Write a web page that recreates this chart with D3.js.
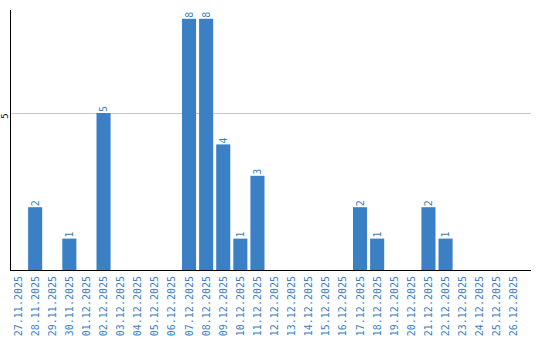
<!DOCTYPE html>
<html>
<head>
<meta charset="utf-8">
<script src="https://cdn.jsdelivr.net/npm/d3@7"></script>
<style>
  body { margin: 0; background: #fff; }
  svg { display: block; }
</style>
</head>
<body>
<svg id="chart"></svg>
<script>
const dates = ["27.11.2025", "28.11.2025", "29.11.2025", "30.11.2025", "01.12.2025",
    "02.12.2025", "03.12.2025", "04.12.2025", "05.12.2025", "06.12.2025",
    "07.12.2025", "08.12.2025", "09.12.2025", "10.12.2025", "11.12.2025",
    "12.12.2025", "13.12.2025", "14.12.2025", "15.12.2025", "16.12.2025",
    "17.12.2025", "18.12.2025", "19.12.2025", "20.12.2025", "21.12.2025",
    "22.12.2025", "23.12.2025", "24.12.2025", "25.12.2025", "26.12.2025"];
const counts = [0, 2, 0, 1, 0, 5, 0, 0, 0, 0, 8, 8, 4, 1, 3, 0, 0, 0, 0, 0,
    2, 1, 0, 0, 2, 1, 0, 0, 0, 0];
const yTicks = [5];

const data = dates.map((d, i) => ({date: d, count: counts[i]}));

const width = 540, height = 340;
const plotLeft = 10.5, plotRight = 531, plotTop = 10, plotBottom = 270;
const blue = "#3b7fc4";
const font = "'DejaVu Sans Mono', monospace";

const svg = d3.select("#chart")
    .attr("width", width)
    .attr("height", height);

const x = d3.scaleBand()
    .domain(dates)
    .range([11, 11 + 17 * dates.length])
    .paddingInner(3 / 17)
    .paddingOuter(0)
    .align(0);

const y = d3.scaleLinear()
    .domain([0, 8.28])
    .range([plotBottom, plotTop]);

// grid
svg.append("g")
    .selectAll("line")
    .data(yTicks)
    .enter().append("line")
    .attr("x1", plotLeft)
    .attr("x2", plotRight)
    .attr("y1", d => Math.round(y(d)) + 0.5)
    .attr("y2", d => Math.round(y(d)) + 0.5)
    .attr("stroke", "#c8c8c8")
    .attr("stroke-width", 1);

// y tick labels
svg.append("g")
    .selectAll("text")
    .data(yTicks)
    .enter().append("text")
    .attr("transform", d => `translate(4.5,${y(d) + 3}) rotate(-90)`)
    .attr("text-anchor", "middle")
    .attr("dominant-baseline", "central")
    .style("font-family", font)
    .style("font-size", "9px")
    .attr("fill", "#000")
    .text(d => d);

// bars
svg.append("g")
    .selectAll(".bar")
    .data(data.filter(d => d.count > 0))
    .enter().append("rect")
    .attr("class", "bar")
    .attr("x", d => x(d.date))
    .attr("width", x.bandwidth())
    .attr("y", d => y(d.count))
    .attr("height", d => y(0) - y(d.count))
    .attr("fill", blue);

// value labels
svg.append("g")
    .selectAll(".label")
    .data(data.filter(d => d.count > 0))
    .enter().append("text")
    .attr("class", "label")
    .attr("transform", d => `translate(${x(d.date) + x.bandwidth() / 2},${y(d.count) - 1}) rotate(-90)`)
    .attr("text-anchor", "start")
    .attr("dominant-baseline", "central")
    .style("font-family", font)
    .style("font-size", "10px")
    .attr("fill", blue)
    .text(d => d.count);

// x axis
const xAxis = svg.append("g")
    .attr("transform", `translate(0,${plotBottom})`)
    .call(d3.axisBottom(x).tickSize(0).tickPadding(0));
xAxis.select(".domain").remove();
xAxis.selectAll("text")
    .attr("y", 0)
    .attr("dy", null)
    .attr("transform", "translate(0,6) rotate(-90)")
    .attr("text-anchor", "end")
    .attr("dominant-baseline", "central")
    .style("font-family", font)
    .style("font-size", "10px")
    .attr("fill", blue);

svg.append("line")
    .attr("x1", plotLeft - 0.5)
    .attr("x2", plotRight)
    .attr("y1", plotBottom + 0.5)
    .attr("y2", plotBottom + 0.5)
    .attr("stroke", "#000");

svg.append("line")
    .attr("x1", plotLeft)
    .attr("x2", plotLeft)
    .attr("y1", plotTop)
    .attr("y2", plotBottom + 1)
    .attr("stroke", "#000");
</script>
</body>
</html>
